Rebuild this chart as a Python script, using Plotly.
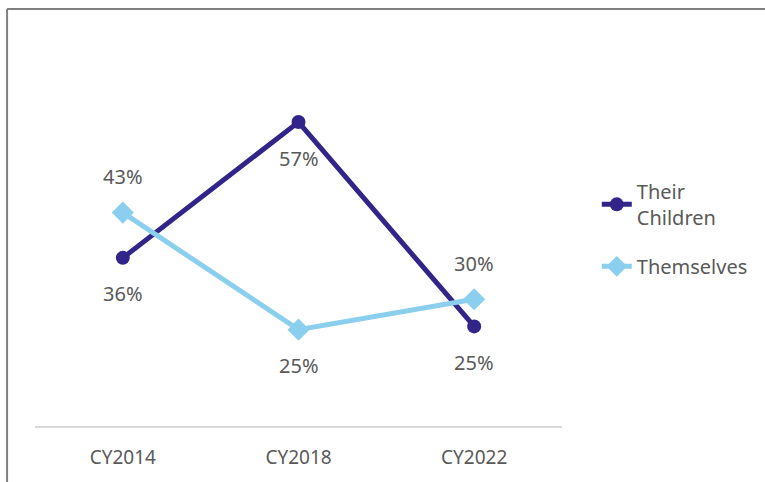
import plotly.graph_objects as go

categories = ["CY2014", "CY2018", "CY2022"]
their_children = [36.0, 57.0, 25.4]
themselves = [43.0, 24.9, 29.6]
children_label_side = [-1, -1, -1]
themselves_label_side = [1, -1, 1]

DARK = "#31258A"
LIGHT = "#8BCFEF"
TXT = "#595959"
FONT = "Noto Sans"

fig = go.Figure()
fig.add_trace(go.Scatter(
    x=categories, y=their_children, name="Their<br>Children", legendgroup="a",
    mode="lines+markers", line=dict(color=DARK, width=5),
    marker=dict(symbol="circle", size=14, color=DARK),
))
fig.add_trace(go.Scatter(
    x=categories, y=themselves, name="Themselves", legendgroup="b",
    mode="lines+markers", line=dict(color=LIGHT, width=5),
    marker=dict(symbol="diamond", size=17, color=LIGHT),
))

for vals, sides in ((their_children, children_label_side), (themselves, themselves_label_side)):
    for c, v, s in zip(categories, vals, sides):
        fig.add_annotation(x=c, y=v, text=f"{round(v)}%", showarrow=False,
                           yshift=36 * s, font=dict(family=FONT, size=20, color=TXT))

# outer frame (top and left edges of the cropped border)
fig.add_shape(type="line", xref="paper", yref="paper", x0=-0.053, x1=1.45, y0=1.075, y1=1.075,
              line=dict(color="#808080", width=2))
fig.add_shape(type="line", xref="paper", yref="paper", x0=-0.053, x1=-0.053, y0=1.075, y1=-0.2,
              line=dict(color="#808080", width=2))

fig.update_layout(
    width=765, height=482,
    margin=dict(l=35, r=202, t=38, b=47),
    paper_bgcolor="white", plot_bgcolor="white",
    font=dict(family=FONT, size=20, color=TXT),
    showlegend=True,
    legend=dict(x=1.066, y=0.655, xanchor="left", yanchor="top",
                font=dict(family=FONT, size=20, color=TXT),
                tracegroupgap=20, bgcolor="rgba(0,0,0,0)"),
    xaxis=dict(showgrid=False, zeroline=False, showline=True, linecolor="#D9D9D9", linewidth=2,
               ticks="", tickfont=dict(family=FONT, size=19, color=TXT),
               ticklabelstandoff=13, range=[-0.5, 2.5]),
    yaxis=dict(range=[10, 70], showgrid=False, zeroline=False, showline=False,
               showticklabels=False, ticks=""),
)

fig.write_html(
    "out.html",
    config={"displayModeBar": False},
    post_script=(
        "var h=document.documentElement, b=document.body;"
        "h.style.overflow='hidden'; h.style.height='482px'; h.style.margin='0'; h.style.padding='0';"
        "b.style.margin='0'; b.style.padding='0'; b.style.overflow='hidden'; b.style.height='482px';"
        "b.style.lineHeight='0'; b.style.fontSize='0';"
    ),
)
